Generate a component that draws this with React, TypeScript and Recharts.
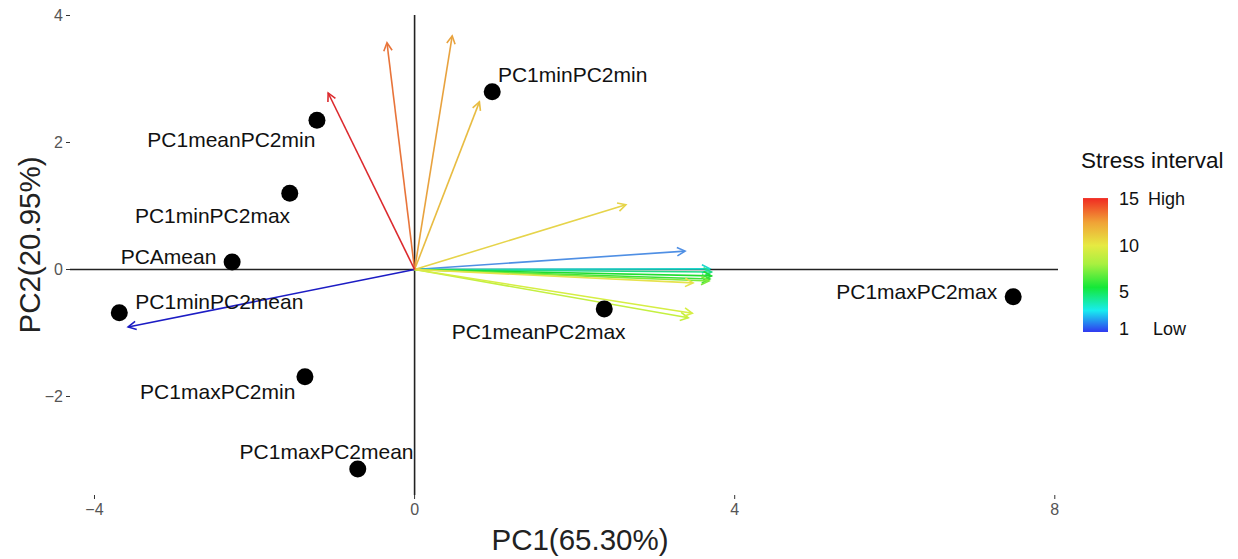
import React from 'react';
import { ScatterChart, Scatter, XAxis, YAxis, ReferenceLine, Label } from 'recharts';

const FONT = '"Liberation Sans", Arial, Helvetica, sans-serif';

// Samples (individual scores)
const sampleNames = ['PC1minPC2min', 'PC1meanPC2min', 'PC1minPC2max', 'PCAmean', 'PC1minPC2mean', 'PC1maxPC2min', 'PC1maxPC2mean', 'PC1meanPC2max', 'PC1maxPC2max'];
const sampleX = [0.97, -1.22, -1.56, -2.28, -3.69, -1.37, -0.71, 2.37, 7.48];
const sampleY = [2.8, 2.35, 1.2, 0.12, -0.68, -1.69, -3.14, -0.62, -0.43];
// repelled label anchor positions (data units)
const sampleLabelX = [1.975, -2.29, -2.525, -3.075, -2.44, -2.46, -1.1, 1.55, 6.275];
const sampleLabelY = [3.07, 2.05, 0.85, 0.205, -0.5, -1.92, -2.87, -0.98, -0.35];

// Variable loadings (arrows) by stress interval
const intervals = [1, 2, 3, 4, 5, 6, 7, 8, 9, 10, 11, 12, 13, 14, 15];
const loadingX = [-3.58, 3.38, 3.69, 3.71, 3.71, 3.69, 3.68, 3.42, 3.47, 3.48, 2.64, 0.81, 0.47, -0.345, -1.08];
const loadingY = [-0.905, 0.29, 0.01, -0.04, -0.1, -0.15, -0.18, -0.76, -0.69, -0.21, 1.02, 2.64, 3.68, 3.57, 2.78];
const intervalColors = ['#1c1cc4', '#4f8fe4', '#1cd8cc', '#22dc88', '#20dc30', '#3ee03a', '#7cec3c', '#c4f040', '#d6ee44', '#e6e24c', '#e6d44a', '#e8bc42', '#e8a23e', '#e8743a', '#dc2a2e'];

const xTicks = [-4, 0, 4, 8];
const yTicks = [-2, 0, 2, 4];
const xDomain = [-4.306, 8.04];
const yDomain = [-3.551, 4.008];

// Legend colour bar
const legendStopValues = [0.7, 3, 5.5, 8, 10, 12.5, 15.1];
const legendStopColors = ['#3038f0', '#18ecf0', '#14e838', '#a8f040', '#e6ea42', '#f0a236', '#f02a22'];
const legendTickValues = [15, 10, 5, 1];
const legendTickWords = ['High', '', '', 'Low'];

const samples = sampleNames.map((name, i) => ({ name, x: sampleX[i], y: sampleY[i] }));
const sampleLabels = sampleNames.map((name, i) => ({ name, x: sampleLabelX[i], y: sampleLabelY[i] }));

const fmt = (v: number) => (v < 0 ? '\u2212' + Math.abs(v) : String(v));

const arrowShape = (props: any) => {
  const { x1, y1, x2, y2, stroke } = props;
  const ang = Math.atan2(y2 - y1, x2 - x1);
  const L = 9;
  const a = Math.PI / 6.5;
  const ax = x2 - L * Math.cos(ang - a);
  const ay = y2 - L * Math.sin(ang - a);
  const bx = x2 - L * Math.cos(ang + a);
  const by = y2 - L * Math.sin(ang + a);
  return (
    <g>
      <line x1={x1} y1={y1} x2={x2} y2={y2} stroke={stroke} strokeWidth={1.6} />
      <polyline points={`${ax},${ay} ${x2},${y2} ${bx},${by}`} fill="none" stroke={stroke} strokeWidth={1.6} />
    </g>
  );
};

const dotShape = (props: any) => <circle cx={props.cx} cy={props.cy} r={8.5} fill="#000" />;

const labelShape = (props: any) => (
  <text x={props.cx} y={props.cy} textAnchor="middle" dominantBaseline="central" fontSize={21} fontFamily={FONT} fill="#111">
    {props.payload.name}
  </text>
);

const Legend = () => {
  const barTop = 199;
  const unit = 9.3;
  const yOf = (v: number) => barTop + (15 - v) * unit;
  const vMin = legendStopValues[0];
  const vMax = legendStopValues[legendStopValues.length - 1];
  const top = yOf(vMax);
  const bottom = yOf(vMin);
  return (
    <svg width={1238} height={559} style={{ position: 'absolute', left: 0, top: 0, pointerEvents: 'none' }}>
      <defs>
        <linearGradient id="stressGrad" x1="0" y1="1" x2="0" y2="0">
          {legendStopValues.map((v, i) => (
            <stop key={i} offset={(v - vMin) / (vMax - vMin)} stopColor={legendStopColors[i]} />
          ))}
        </linearGradient>
      </defs>
      <text x={1081} y={160} dominantBaseline="central" fontSize={22.5} fontFamily={FONT} fill="#111">Stress interval</text>
      <rect x={1083} y={top} width={25} height={bottom - top} fill="url(#stressGrad)" />
      {legendTickValues.map((v, i) => (
        <g key={v}>
          <text x={1119} y={yOf(v)} dominantBaseline="central" fontSize={18} fontFamily={FONT} fill="#111">{v}</text>
          {legendTickWords[i] ? (
            <text x={i === 0 ? 1148 : 1153} y={yOf(v)} dominantBaseline="central" fontSize={18} fontFamily={FONT} fill="#111">{legendTickWords[i]}</text>
          ) : null}
        </g>
      ))}
    </svg>
  );
};

export default function App() {
  return (
    <div style={{ position: 'absolute', left: 0, top: 0, width: 1238, height: 559, background: '#fff', fontFamily: FONT }}>
      <ScatterChart width={1238} height={559} margin={{ top: 15, right: 180, bottom: 0, left: 0 }}>
        <XAxis
          type="number"
          dataKey="x"
          domain={xDomain}
          ticks={xTicks}
          tickFormatter={fmt}
          allowDataOverflow
          axisLine={false}
          tickSize={4}
          tickMargin={5}
          height={64}
          tick={{ fontSize: 16, fill: '#555', fontFamily: FONT }}
          tickLine={{ stroke: '#333' }}
        >
          <Label
            content={(p: any) => (
              <text x={p.viewBox.x + p.viewBox.width / 2 + 16} y={539} textAnchor="middle" dominantBaseline="central" fontSize={29.5} fontFamily={FONT} fill="#222">
                PC1(65.30%)
              </text>
            )}
          />
        </XAxis>
        <YAxis
          type="number"
          dataKey="y"
          domain={yDomain}
          ticks={yTicks}
          tickFormatter={fmt}
          allowDataOverflow
          axisLine={false}
          tickSize={4}
          tickMargin={3}
          width={70}
          tick={{ fontSize: 16, fill: '#555', fontFamily: FONT }}
          tickLine={{ stroke: '#333' }}
        >
          <Label
            content={(p: any) => {
              const cx = 29;
              const cy = p.viewBox.y + p.viewBox.height / 2 - 10;
              return (
                <text x={cx} y={cy} transform={`rotate(-90, ${cx}, ${cy})`} textAnchor="middle" dominantBaseline="central" fontSize={29.5} fontFamily={FONT} fill="#222">
                  PC2(20.95%)
                </text>
              );
            }}
          />
        </YAxis>
        <ReferenceLine y={0} stroke="#222" strokeWidth={1.6} />
        <ReferenceLine x={0} stroke="#222" strokeWidth={1.6} />
        <Scatter data={samples} shape={dotShape} isAnimationActive={false} />
        <Scatter data={sampleLabels} shape={labelShape} isAnimationActive={false} />
        {intervals.map((iv, i) => (
          <ReferenceLine
            key={iv}
            segment={[{ x: 0, y: 0 }, { x: loadingX[i], y: loadingY[i] }]}
            stroke={intervalColors[i]}
            shape={arrowShape}
          />
        ))}
      </ScatterChart>
      <Legend />
    </div>
  );
}
